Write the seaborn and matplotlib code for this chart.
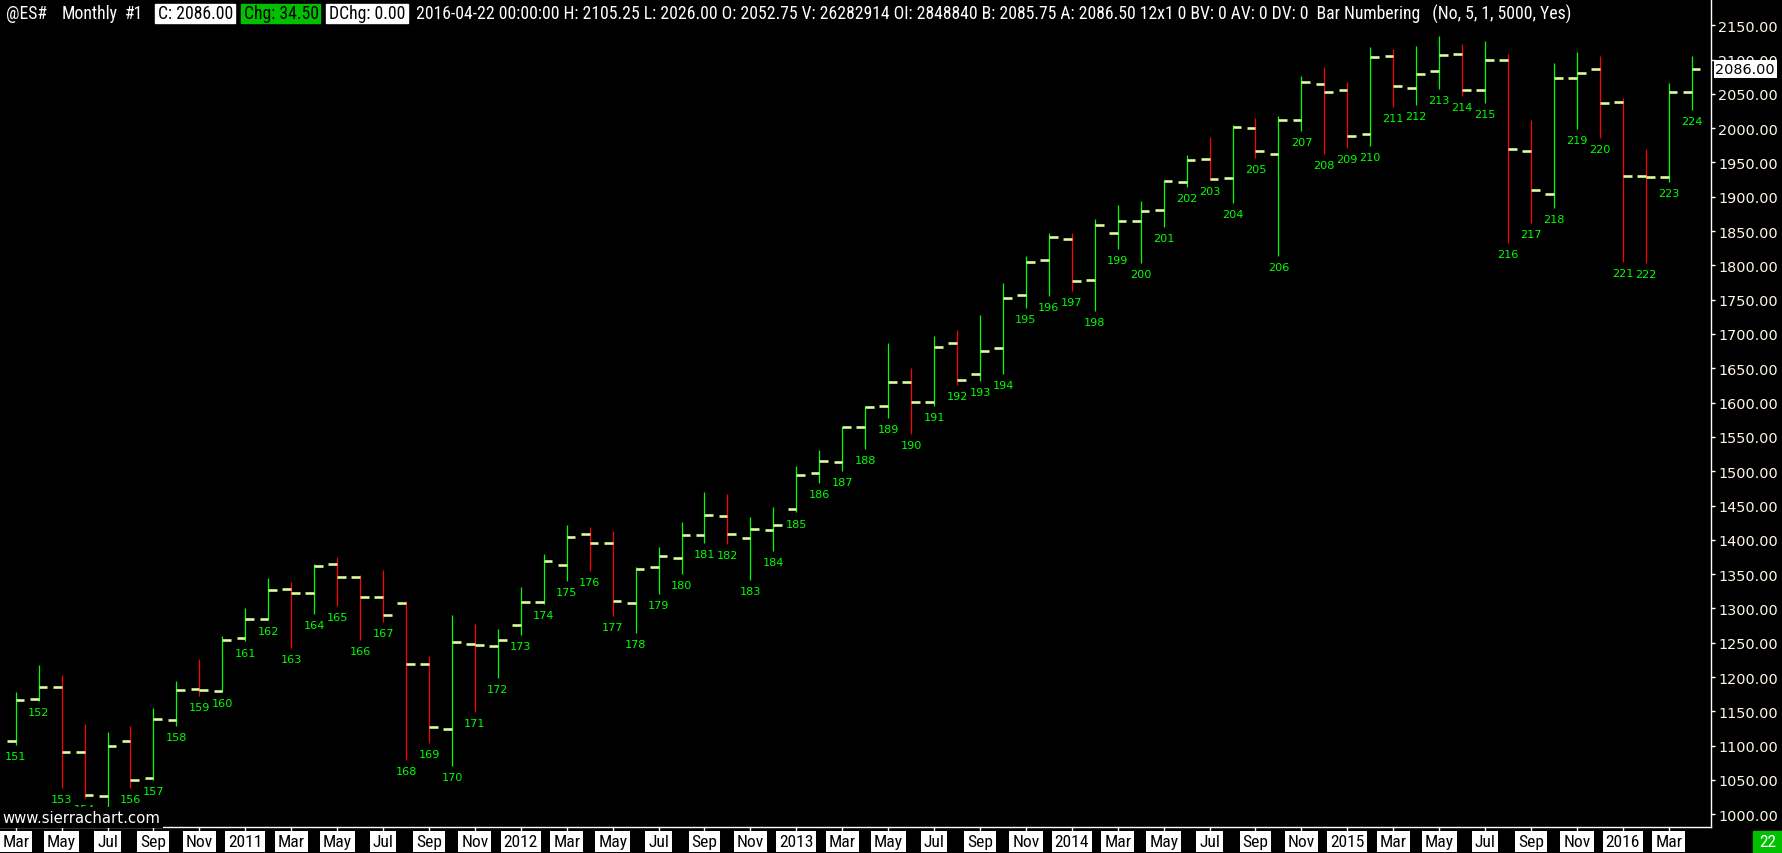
import matplotlib
matplotlib.use("agg")
import matplotlib.pyplot as plt
from matplotlib import font_manager
from matplotlib.patches import Rectangle
import seaborn as sns

# monthly ES bars, Mar 2010 .. Apr 2016 (bar numbering 151..224)
bar_numbers = list(range(151, 225))

opens = [1106.5, 1167.5, 1185.0, 1090.5, 1026.75, 1106.5, 1052.5, 1137.0, 1182.5, 1179.25,
         1256.5, 1284.25, 1328.0, 1322.0, 1364.25, 1345.5, 1316.25, 1307.5, 1218.5, 1124.0,
         1248.25, 1245.0, 1275.5, 1309.0, 1363.0, 1408.0, 1395.0, 1307.5, 1360.0, 1373.0,
         1406.5, 1434.25, 1402.25, 1414.0, 1444.5, 1497.0, 1513.0, 1564.0, 1595.0, 1629.5,
         1600.5, 1686.5, 1641.25, 1679.0, 1756.5, 1807.25, 1838.0, 1778.25, 1847.25, 1864.25,
         1880.25, 1921.0, 1954.5, 1927.0, 1999.75, 1962.0, 2011.5, 2064.0, 2055.0, 1991.0,
         2104.75, 2058.0, 2082.75, 2107.5, 2055.0, 2098.75, 1966.25, 1903.5, 2072.5, 2085.75,
         2037.5, 1930.0, 1928.25, 2052.75]
highs = [1178.75, 1218.0, 1203.5, 1131.5, 1120.0, 1128.75, 1155.0, 1194.25, 1226.5, 1259.5,
         1300.75, 1344.5, 1338.5, 1364.75, 1375.0, 1348.75, 1356.0, 1311.0, 1230.75, 1290.5,
         1277.25, 1270.0, 1331.25, 1379.5, 1421.5, 1418.75, 1413.0, 1360.0, 1389.5, 1425.5,
         1469.75, 1466.5, 1433.25, 1448.0, 1507.25, 1531.0, 1565.0, 1594.5, 1687.0, 1650.5,
         1697.0, 1705.75, 1727.75, 1774.25, 1813.25, 1847.0, 1847.0, 1867.5, 1888.0, 1893.5,
         1924.0, 1960.75, 1987.0, 2004.5, 2014.75, 2017.25, 2076.0, 2089.0, 2067.25, 2118.25,
         2115.25, 2119.75, 2134.25, 2122.5, 2127.0, 2108.0, 2011.75, 2095.0, 2111.0, 2105.0,
         2043.5, 1969.5, 2065.25, 2105.25]
lows = [1101.0, 1165.0, 1038.75, 1024.0, 1005.0, 1038.75, 1050.0, 1129.25, 1173.0, 1178.0,
        1252.0, 1283.0, 1242.5, 1292.0, 1304.0, 1254.0, 1280.25, 1079.5, 1104.5, 1071.0,
        1149.5, 1198.25, 1261.25, 1306.0, 1340.5, 1355.0, 1289.5, 1264.25, 1321.0, 1350.25,
        1395.5, 1394.0, 1341.5, 1383.75, 1440.0, 1483.0, 1500.75, 1532.5, 1577.5, 1554.25,
        1595.5, 1626.0, 1632.0, 1641.75, 1738.25, 1755.5, 1763.0, 1734.0, 1824.0, 1804.0,
        1856.5, 1914.75, 1924.0, 1891.0, 1956.5, 1813.75, 1996.25, 1962.25, 1971.5, 1974.5,
        2031.25, 2034.0, 2057.5, 2047.25, 2036.25, 1833.0, 1862.25, 1884.0, 1999.25, 1985.25,
        1805.5, 1804.0, 1922.0, 2026.0]
closes = [1166.25, 1185.0, 1090.5, 1027.75, 1099.0, 1049.5, 1138.5, 1180.75, 1180.75, 1254.0,
          1284.25, 1326.5, 1322.0, 1361.5, 1345.5, 1316.25, 1290.0, 1218.5, 1126.75, 1250.5,
          1246.75, 1253.5, 1309.0, 1368.5, 1403.75, 1395.0, 1310.5, 1357.0, 1376.0, 1406.5,
          1435.75, 1408.0, 1415.5, 1421.25, 1494.0, 1515.0, 1564.0, 1593.25, 1629.5, 1600.5,
          1680.5, 1632.5, 1674.75, 1752.0, 1804.5, 1841.0, 1776.75, 1858.5, 1864.25, 1878.75,
          1922.5, 1953.0, 1925.5, 2001.25, 1966.25, 2011.5, 2066.75, 2052.25, 1988.0, 2103.25,
          2061.0, 2078.5, 2106.0, 2055.0, 2098.75, 1969.0, 1909.5, 2073.75, 2080.0, 2036.25,
          1929.75, 1929.5, 2052.25, 2086.0]

# x labels on every second month
tick_labels = ["Mar", "May", "Jul", "Sep", "Nov",
               "2011", "Mar", "May", "Jul", "Sep", "Nov",
               "2012", "Mar", "May", "Jul", "Sep", "Nov",
               "2013", "Mar", "May", "Jul", "Sep", "Nov",
               "2014", "Mar", "May", "Jul", "Sep", "Nov",
               "2015", "Mar", "May", "Jul", "Sep", "Nov",
               "2016", "Mar"]
price_ticks = list(range(1000, 2151, 50))
last_price = 2086.00

header_plain = [("@ES#", 6), ("Monthly", 62), ("#1", 125)]
header_boxes = [("C: 2086.00", 155, 80, "white"),
                ("Chg: 34.50", 241, 79, "#00c000"),
                ("DChg: 0.00", 326, 82, "white")]
header_rest = ("2016-04-22 00:00:00 H: 2105.25 L: 2026.00 O: 2052.75 V: 26282914 "
               "OI: 2848840 B: 2085.75 A: 2086.50 12x1 0 BV: 0 AV: 0 DV: 0  "
               "Bar Numbering   (No, 5, 1, 5000, Yes)")

W, H = 1783, 854
UP, DOWN, TICK = "#00ff00", "#ff0000", "#dcfb9c"

sns.set_theme(style="dark", rc={"figure.facecolor": "black", "axes.facecolor": "black",
                                "savefig.facecolor": "black", "axes.grid": False})
plt.rcParams["font.family"] = ["DejaVu Sans"]

installed = {f.name for f in font_manager.fontManager.ttflist}
narrow = next((n for n in ["Liberation Sans Narrow", "Arial Narrow", "Roboto Condensed"]
               if n in installed), "DejaVu Sans")

fig = plt.figure(figsize=(W / 100, H / 100), dpi=100)
ax = fig.add_axes([0, 26 / H, 1711 / W, 828 / H])
renderer = fig.canvas.get_renderer()


def fit_size(s, target, family):
    t = fig.text(0, 0, s, fontsize=10, family=family)
    w = t.get_window_extent(renderer).width
    t.remove()
    return 10 * target / w


xs = list(range(len(bar_numbers)))
colors = [UP if c >= o else DOWN for o, c in zip(opens, closes)]

ax.vlines(xs, lows, highs, colors=colors, lw=0.9, zorder=2)
half = 0.38
lc = ax.hlines(opens, [x - half for x in xs], xs, colors=TICK, lw=1.9, zorder=3)
lc.set_capstyle("butt")
lc = ax.hlines(closes, xs, [x + half for x in xs], colors=TICK, lw=1.9, zorder=3)
lc.set_capstyle("butt")

num_size = fit_size("206", 21.5, "DejaVu Sans")
for x, lo, n in zip(xs, lows, bar_numbers):
    ax.annotate(str(n), xy=(x, lo), xytext=(0, -4.4), textcoords="offset points",
                ha="center", va="top", color=UP, fontsize=num_size, zorder=4)

ax.set_xlim(-0.684, 73.84)
ax.set_ylim(981.5, 2188.2)

sns.despine(ax=ax, left=True, top=True, right=False, bottom=False)
for side in ("right", "bottom"):
    ax.spines[side].set_color("white")
    ax.spines[side].set_linewidth(1.0)

ax.yaxis.tick_right()
ax.set_yticks(price_ticks)
ax.set_yticklabels([f"{p:.2f}" for p in price_ticks])
ax.tick_params(axis="y", which="both", right=True, left=False, direction="out",
               length=3, width=1, color="white", labelcolor="#fff8e7",
               labelsize=10.4, pad=2)

lab_size = fit_size("2011", 34, narrow)
ax.set_xticks(xs[::2])
ax.set_xticklabels(tick_labels, family=narrow, fontsize=lab_size)
ax.tick_params(axis="x", bottom=True, direction="out", length=4, width=1,
               color="white", labelcolor="black", pad=1)
for lab in ax.get_xticklabels():
    lab.set_bbox(dict(boxstyle="square,pad=0.17", fc="white", ec="none"))

# last price marker on the price scale
ax.annotate(f"{last_price:.2f}", xy=(1, last_price), xycoords=("axes fraction", "data"),
            xytext=(3.2, 0), textcoords="offset points", ha="left", va="center",
            color="black", fontsize=10.4,
            bbox=dict(boxstyle="square,pad=0.12", fc="white", ec="none"), zorder=6,
            annotation_clip=False)

# header line
hs = fit_size(header_rest, 1144, narrow)
hy = 1 - 14.3 / H
for s, px in header_plain:
    fig.text(px / W, hy, s, color="white", fontsize=hs, family=narrow, va="center")
for s, px, bw, bc in header_boxes:
    fig.patches.append(Rectangle((px / W, 1 - 24 / H), bw / W, 19.5 / H,
                                 transform=fig.transFigure, color=bc, zorder=1))
    fig.text((px + 3) / W, hy, s, color="black", fontsize=hs, family=narrow,
             va="center", zorder=2)
fig.text(416 / W, hy, header_rest, color="white", fontsize=hs, family=narrow, va="center")

# watermark and bar-count box
wm = fit_size("www.sierrachart.com", 158, "DejaVu Sans")
fig.text(2 / W, 1 - 818.5 / H, "www.sierrachart.com", color="white", fontsize=wm,
         va="center", zorder=10,
         bbox=dict(boxstyle="square,pad=0.2", fc="black", ec="none"))
fig.patches.append(Rectangle((1753 / W, 0), 30 / W, 22 / H, transform=fig.transFigure,
                             color="#00c000", zorder=1))
fig.text(1768 / W, 11 / H, "22", color="white", fontsize=lab_size, family=narrow,
         ha="center", va="center", zorder=2)

fig.savefig("out.png", dpi=100, facecolor="black")
